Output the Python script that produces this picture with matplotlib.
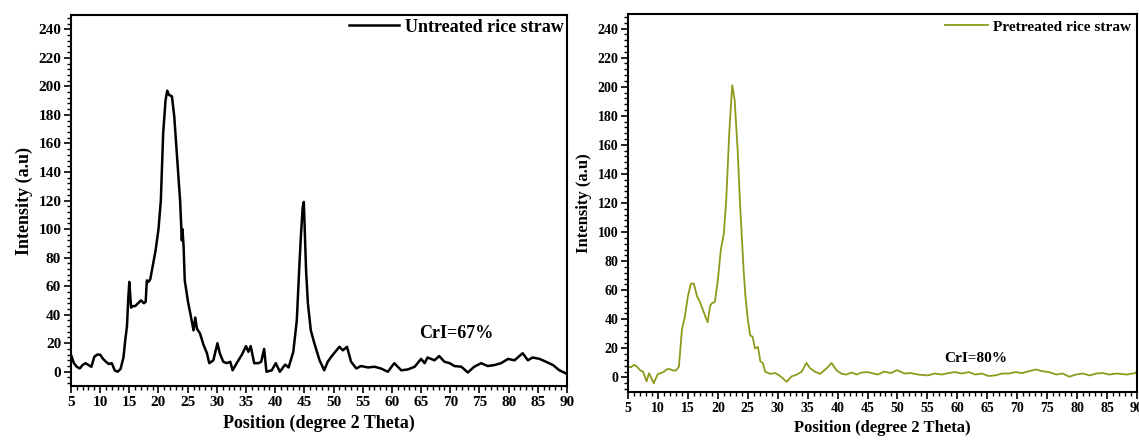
import matplotlib
matplotlib.use("Agg")
import matplotlib.pyplot as plt
from matplotlib.ticker import MultipleLocator

plt.rcParams['font.family'] = ['Liberation Serif', 'DejaVu Serif']
plt.rcParams['font.weight'] = 'bold'

# XRD pattern of untreated rice straw (2-theta, intensity)
untreated_theta = [5.0, 5.5, 6.0, 6.5, 7.0, 7.5, 8.0, 8.5, 9.0, 9.5, 10.0, 10.5, 11.0, 11.5,
                   12.0, 12.5, 13.0, 13.5, 14.0, 14.3, 14.6, 14.8, 15.0, 15.3, 15.6, 16.0,
                   16.5, 17.0, 17.5, 17.8, 18.0, 18.3, 18.6, 19.0, 19.5, 20.0, 20.4, 20.8,
                   21.2, 21.5, 21.8, 22.3, 22.7, 23.1, 23.7, 24.0, 24.1, 24.3, 24.5, 25.1,
                   25.4, 26.0, 26.3, 26.6, 27.1, 27.7, 28.3, 28.7, 29.4, 30.1, 30.5, 31.1,
                   31.7, 32.3, 32.7, 33.4, 34.3, 35.0, 35.4, 35.8, 36.4, 37.1, 37.6, 38.1,
                   38.5, 39.4, 40.1, 40.8, 41.7, 42.3, 43.1, 43.7, 44.1, 44.4, 44.7, 44.9,
                   45.1, 45.3, 45.6, 46.1, 46.7, 47.6, 48.4, 49.0, 49.6, 50.1, 51.0, 51.6,
                   52.3, 53.0, 53.9, 54.7, 55.9, 57.0, 58.1, 59.3, 60.4, 61.6, 62.7, 63.9,
                   65.0, 65.6, 66.1, 67.3, 68.1, 69.0, 69.9, 70.7, 71.9, 73.0, 74.1, 75.3,
                   76.4, 77.6, 78.7, 79.9, 81.0, 82.4, 83.3, 84.1, 85.3, 86.4, 87.6, 88.7,
                   90.0]
untreated_int = [12, 6, 3.5, 2.3, 4.7, 6, 4.7, 3.5, 10.5, 12, 12, 9, 7, 5.4,
                 6, 1, 0, 2, 10, 22, 32, 50, 63, 45, 46, 46,
                 48, 50, 48, 49, 64, 63, 65, 74, 85, 100, 120, 167,
                 190, 197, 194, 193, 179, 155, 120, 92, 100, 88, 64, 48,
                 42, 29, 38, 30, 27, 19, 13, 6, 8, 20, 13, 7,
                 6, 7, 1, 6, 12, 18, 14, 18, 6, 6, 7, 16,
                 0, 1, 6, 0, 5, 3, 14, 36, 71, 95, 115, 119,
                 95, 70, 48, 29, 20, 8, 1, 7, 10.5, 13, 17.5, 15,
                 17.5, 7, 2.3, 4, 3, 3.5, 2.3, 0, 6, 1, 1.6, 3.5,
                 9, 6, 10, 8, 11, 7, 6, 4, 3.5, -0.5, 3.5, 6,
                 4, 4.7, 6, 9, 8, 13, 8, 10, 9, 7, 4.7, 1,
                 -1.5]

# XRD pattern of pretreated rice straw
pretreated_theta = [5.0, 5.5, 6.0, 6.5, 7.0, 7.5, 8.1, 8.5, 9.3, 9.6, 10.0, 10.5, 11.0, 11.5,
                    12.0, 12.5, 13.0, 13.5, 14.0, 14.5, 15.0, 15.5, 16.0, 16.5, 17.0, 17.5,
                    18.0, 18.3, 18.7, 19.0, 19.5, 20.0, 20.5, 21.0, 21.4, 21.9, 22.4, 22.8,
                    23.3, 23.7, 24.3, 24.6, 25.0, 25.4, 25.8, 26.2, 26.7, 27.1, 27.5, 27.9,
                    28.7, 29.6, 30.4, 31.5, 32.3, 33.2, 34.0, 34.8, 35.4, 36.2, 37.1, 38.2,
                    39.0, 39.8, 40.7, 41.5, 42.3, 43.2, 44.0, 45.0, 46.7, 47.8, 48.9, 49.9,
                    51.2, 52.3, 53.4, 55.1, 56.2, 57.4, 58.5, 59.6, 60.7, 61.9, 63.0, 64.1,
                    65.2, 66.3, 67.5, 68.6, 69.7, 70.8, 72.0, 73.1, 74.2, 75.3, 76.5, 77.6,
                    78.7, 79.8, 81.0, 82.1, 83.2, 84.3, 85.4, 86.6, 88.3, 89.7, 90.0]
pretreated_int = [7.5, 7, 8.7, 7.5, 5, 4, -2.7, 3, -4, -1, 2.5, 3, 4, 5.7,
                  5.7, 4.8, 4.8, 7.5, 33, 42, 56, 64.5, 64.5, 56, 52, 46.5,
                  41, 38, 49, 51, 52, 67, 88, 99, 122, 168, 201, 191,
                  157, 120, 74, 56, 40, 29, 28, 20, 21, 11, 10, 4,
                  2.5, 3, 1, -3, 0.7, 2, 4, 10, 6.4, 4, 2.5, 6.4,
                  10, 5, 2.5, 2, 3.4, 2, 3.4, 3.7, 2, 4, 3, 5,
                  2.7, 3, 2, 1.4, 2.7, 2, 3, 3.7, 2.7, 3.7, 2, 2.7,
                  1, 1.4, 2.7, 2.7, 3.7, 3, 4.3, 5.5, 4.3, 3.7, 2, 2.7,
                  0.5, 2, 2.7, 1.4, 2.7, 3, 2, 2.7, 2, 3, 4]

x_ticks = list(range(5, 95, 5))
y_ticks = list(range(0, 260, 20))

fig = plt.figure(figsize=(11.39, 4.40), dpi=100)
ax1 = fig.add_axes([0.0623, 0.1227, 0.4355, 0.8432])
ax2 = fig.add_axes([0.5514, 0.1091, 0.4468, 0.8591])

olive = '#8f9a1c'


def style_axis(ax, tick_size, label_size):
    ax.set_xlim(5, 90)
    ax.set_ylim(-10, 250)
    ax.set_xticks(x_ticks)
    ax.set_yticks(y_ticks)
    ax.xaxis.set_minor_locator(MultipleLocator(1))
    ax.yaxis.set_minor_locator(MultipleLocator(4))
    ax.tick_params(which='major', direction='out', length=5, width=1.2,
                   labelsize=tick_size, pad=2)
    ax.tick_params(which='minor', direction='out', length=3, width=1.0)
    ax.tick_params(top=False, right=False)
    for lbl in ax.get_xticklabels() + ax.get_yticklabels():
        lbl.set_fontweight('bold')
    for sp in ax.spines.values():
        sp.set_linewidth(1.5)
    ax.set_xlabel('Position (degree 2 Theta)', fontsize=label_size,
                  fontweight='bold', labelpad=4)
    ax.set_ylabel('Intensity (a.u)', fontsize=label_size, fontweight='bold',
                  labelpad=4)


ax1.plot(untreated_theta, untreated_int, color='black', lw=1.8,
         label='Untreated rice straw')
style_axis(ax1, 11, 13)
ax1.legend(loc='upper right', frameon=False, fontsize=13, handlelength=2.8,
           handletextpad=0.3, borderaxespad=0.1, borderpad=0.1,
           prop={'weight': 'bold', 'size': 13})
ax1.text(64.6, 27, 'CrI=67%', fontsize=13, fontweight='bold', va='center')

ax2.plot(pretreated_theta, pretreated_int, color=olive, lw=1.3,
         label='Pretreated rice straw')
style_axis(ax2, 10, 12)
ax2.legend(loc='upper right', frameon=False, handlelength=2.8,
           handletextpad=0.3, borderaxespad=0.3, borderpad=0.1,
           prop={'weight': 'bold', 'size': 11})
ax2.text(57.8, 13, 'CrI=80%', fontsize=11, fontweight='bold', va='center')

fig.savefig('out.png', dpi=100)
